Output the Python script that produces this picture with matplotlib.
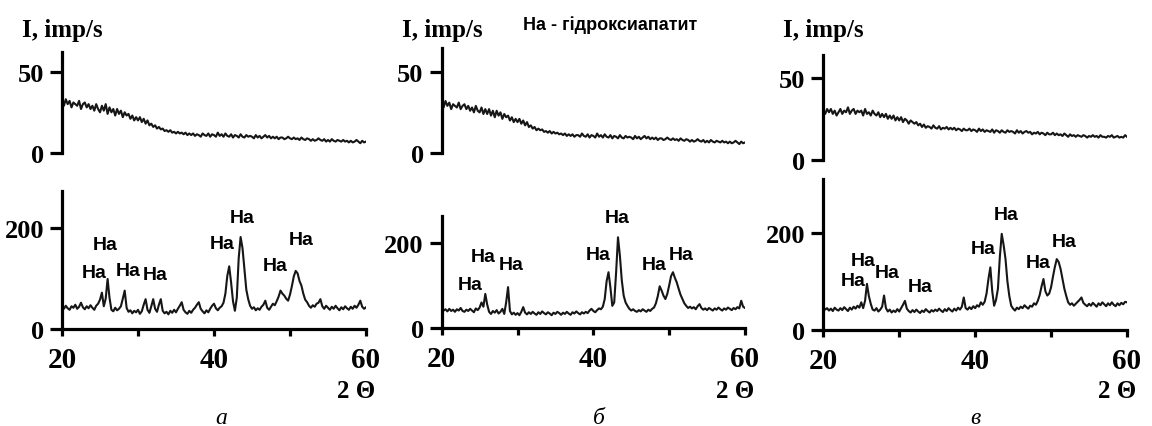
import numpy as np
import matplotlib
matplotlib.use("Agg")
import matplotlib.pyplot as plt

# --- дані (крок 0.25 град. 2Θ, від 20 до 60) ---
two_theta = np.arange(20.0, 60.001, 0.25)

# верхні (аморфні) дифрактограми
top_a = [
    31, 29, 33, 30, 32, 28, 31, 30, 29, 32, 27, 30, 31, 28, 30, 27,
    29, 26, 30, 27, 25, 29, 26, 30, 24, 28, 25, 27, 23, 27, 24, 26,
    22, 25, 23, 24, 21, 23, 20, 22, 20, 22, 19, 21, 18, 20, 17, 18,
    16, 17, 15, 16, 14.5, 15, 13.5, 14, 13, 14, 12.5, 13, 12, 13, 12, 12.5,
    11.5, 12.5, 11, 12, 11, 12, 10.5, 11.5, 11, 10, 12, 11, 10.5, 12, 10, 11.5,
    11, 10, 12.5, 10.5, 11.5, 10, 12, 10.5, 10, 11.5, 9.5, 11, 10.5, 9.5, 11.5, 10,
    9.5, 11, 10, 10.5, 10, 9, 11, 9.5, 10.5, 9, 10, 11, 9.5, 10.5, 9, 10,
    9, 10, 8.5, 9.5, 9.5, 8.5, 9, 10, 9, 8.5, 9.5, 8.5, 9, 8, 9.5, 8.5,
    8, 9, 8.5, 7.5, 8.5, 7.5, 8, 9, 8, 7.5, 8.5, 7, 8, 7, 8.5, 7.5,
    7, 8, 7.5, 7, 8, 7, 7.5, 6.5, 7.5, 6.5, 7, 8, 7, 6, 7.5, 6.5,
    7,
]
top_b = [
    31, 28, 32, 29, 31, 27, 30, 29, 28, 31, 27, 29, 30, 27, 29, 26,
    28, 25, 29, 26, 25, 28, 24, 27, 24, 27, 23, 26, 22, 26, 23, 25,
    21, 24, 22, 23, 20, 22, 19, 21, 19, 21, 18, 20, 17, 19, 16, 17,
    15, 16, 14, 15, 14, 14.5, 13, 13.5, 12.5, 13.5, 12, 13, 12, 12.5, 11.5, 12,
    11, 12, 10.5, 11.5, 10.5, 11.5, 10, 11, 11, 10, 12, 10.5, 10, 11.5, 9.5, 11,
    10.5, 9.5, 12, 10, 11, 9.5, 11.5, 10, 9.5, 11, 9, 10.5, 10, 9, 11, 9.5,
    9, 10.5, 9.5, 10, 9.5, 8.5, 10.5, 9, 10, 8.5, 9.5, 10.5, 9, 10, 8.5, 9.5,
    8.5, 9.5, 8, 9, 9, 8, 8.5, 9.5, 8.5, 8, 9, 8, 8.5, 7.5, 9, 8,
    7.5, 8.5, 8, 7, 8, 7, 7.5, 8.5, 7.5, 7, 8, 6.5, 7.5, 6.5, 8, 7,
    6.5, 7.5, 7, 6.5, 7.5, 6.5, 7, 6, 7, 6, 6.5, 7.5, 6.5, 5.5, 7, 6,
    6.5,
]
top_c = [
    30, 28, 31, 29, 31, 28, 30, 27, 29, 31, 28, 30, 29, 32, 28, 30,
    31, 28, 30, 29, 30, 27, 31, 28, 29, 27, 30, 28, 27, 29, 26, 28,
    26, 28, 25, 27, 25, 27, 24, 26, 24, 26, 23, 25, 24, 22, 24, 23,
    22, 23, 21, 22, 20, 21.5, 19.5, 20.5, 20, 19, 21, 19.5, 19, 20.5, 18.5, 19.5,
    19, 20, 18.5, 19.5, 18.5, 19.5, 18, 19, 18.5, 17.5, 19, 18, 18, 19, 17.5, 18.5,
    18, 17, 19, 17.5, 18.5, 17, 18, 17.5, 17, 18.5, 16.5, 18, 17.5, 16.5, 18, 17,
    16.5, 18, 17, 17.5, 17, 16, 18, 16.5, 17.5, 16, 17, 17.5, 16.5, 17, 15.5, 16.5,
    16, 17, 15.5, 16.5, 16, 15, 16.5, 15.5, 15.5, 16.5, 15, 16, 15, 15.5, 14.5, 16,
    15, 14, 15.5, 14.5, 15, 14, 15, 14.5, 14, 15, 14.5, 13.5, 14.5, 14, 15, 14,
    14.5, 13.5, 15, 14, 14, 13.5, 14.5, 14, 15, 13.5, 14, 14.5, 13.5, 14, 13.5, 15,
    14,
]

# нижні дифрактограми з піками гідроксиапатиту
bottom_a = [
    44, 40, 46, 41, 38, 45, 42, 48, 40, 44, 52, 43, 39, 45, 41, 47,
    42, 38, 46, 50, 58, 72, 45, 60, 99, 62, 38, 35, 42, 37, 40, 45,
    60, 76, 42, 34, 37, 31, 36, 33, 38, 30, 35, 48, 59, 38, 32, 45,
    59, 40, 34, 48, 59, 36, 31, 34, 29, 36, 32, 38, 33, 40, 46, 53,
    38, 33, 30, 36, 32, 38, 42, 48, 53, 40, 35, 31, 37, 33, 40, 46,
    50, 41, 37, 42, 45, 52, 70, 105, 124, 92, 55, 36, 62, 140, 182, 160,
    118, 78, 59, 46, 40, 43, 37, 41, 38, 44, 48, 56, 42, 38, 44, 50,
    47, 55, 64, 76, 70, 66, 60, 56, 68, 85, 104, 115, 110, 95, 86, 70,
    58, 53, 46, 42, 47, 44, 50, 52, 59, 45, 40, 46, 42, 38, 44, 40,
    46, 41, 37, 43, 39, 45, 41, 38, 44, 40, 46, 42, 48, 56, 44, 40,
    43,
]
bottom_b = [
    46, 41, 44, 39, 45, 40, 43, 38, 44, 41, 47, 40, 38, 43, 40, 45,
    41, 37, 46, 42, 48, 60, 50, 80, 55, 38, 33, 40, 36, 42, 34, 38,
    45, 33, 60, 96, 40, 32, 36, 31, 35, 30, 38, 49, 36, 32, 37, 33,
    38, 34, 31, 37, 33, 39, 35, 32, 37, 34, 30, 36, 33, 38, 35, 31,
    36, 33, 38, 34, 31, 37, 34, 39, 35, 32, 37, 34, 38, 35, 41, 45,
    40, 37, 42, 46, 44, 50, 68, 110, 131, 95, 52, 60, 130, 213, 170, 112,
    76, 60, 52, 45, 41, 44, 40, 38, 42, 39, 44, 41, 38, 43, 40, 45,
    48, 58, 75, 98, 88, 76, 68, 80, 100, 122, 131, 118, 107, 92, 78, 68,
    58, 52, 47, 50, 46, 49, 44, 51, 56, 47, 43, 46, 42, 47, 44, 41,
    46, 43, 48, 44, 41, 46, 43, 48, 45, 42, 47, 44, 49, 46, 64, 50,
    47,
]
bottom_c = [
    47, 42, 45, 40, 44, 39, 46, 42, 40, 45, 41, 47, 43, 39, 46, 42,
    48, 44, 50, 46, 57, 45, 60, 95, 70, 54, 42, 40, 45, 38, 42, 48,
    71, 45, 38, 42, 36, 40, 37, 43, 38, 45, 52, 60, 44, 39, 36, 41,
    37, 42, 38, 35, 40, 37, 43, 39, 36, 41, 38, 42, 39, 44, 40, 37,
    43, 39, 45, 41, 38, 44, 40, 46, 42, 48, 67, 45, 42, 47, 43, 49,
    45, 51, 48, 57, 52, 58, 75, 105, 129, 80, 50, 62, 85, 150, 198, 175,
    146, 100, 70, 50, 44, 40, 46, 43, 48, 45, 51, 47, 44, 50, 48, 55,
    52, 60, 72, 90, 105, 80, 71, 75, 88, 110, 130, 146, 140, 126, 105, 85,
    70, 57, 52, 55, 50, 54, 58, 62, 67, 56, 52, 49, 54, 50, 56, 52,
    48, 55, 51, 57, 53, 49, 55, 51, 57, 52, 49, 55, 51, 56, 53, 58,
    57,
]

# підписи піків "На" (2Θ, I)
peaks_a_x = [24.2, 25.7, 28.7, 32.3, 41.1, 43.7, 48.1, 51.5]
peaks_a_y = [111, 167, 115, 107, 170, 220, 125, 178]
peaks_b_x = [23.8, 25.5, 29.1, 40.7, 43.2, 48.0, 51.6]
peaks_b_y = [101, 167, 150, 173, 260, 148, 173]
peaks_c_x = [23.9, 25.3, 28.4, 32.7, 41.1, 44.1, 48.3, 51.7]
peaks_c_y = [102, 144, 118, 90, 168, 238, 139, 183]

panel_letters = ["а", "б", "в"]

W, H = 1152, 427
SERIF = "Liberation Serif"
SANS = "Liberation Sans"
LINE = "#161616"


def fx(px):
    return px / W


def fy(py):
    return (H - py) / H


def make_axes(fig, left, right, y0, ytop):
    return fig.add_axes([fx(left), fy(y0), fx(right - left), (y0 - ytop) / H])


def style_axis(ax):
    for s in ["top", "right"]:
        ax.spines[s].set_visible(False)
    ax.spines["left"].set_linewidth(2.3)
    ax.spines["bottom"].set_linewidth(2.3)
    ax.tick_params(axis="y", direction="out", length=9, width=2.3, pad=4,
                   labelsize=19)
    ax.tick_params(axis="x", which="both", direction="out", length=5,
                   width=2.3, pad=7, labelsize=21)
    for lab in ax.get_xticklabels() + ax.get_yticklabels():
        lab.set_fontfamily(SERIF)
        lab.set_fontweight("bold")


def draw_panel(fig, geom, top_y, bottom_y, px_, py_, letter, letter_pos):
    left, right, t0, tt, ttop, b0, bt, btop = geom

    # верхній графік
    ax1 = make_axes(fig, left, right, t0, tt)
    ax1.plot(two_theta, top_y, color=LINE, lw=1.5)
    ax1.set_xlim(20, 60)
    ax1.set_ylim(0, ttop)
    ax1.set_yticks([0, 50])
    ax1.set_xticks([])
    ax1.spines["bottom"].set_visible(False)
    style_axis(ax1)

    # нижній графік
    ax2 = make_axes(fig, left, right, b0, bt)
    ax2.plot(two_theta, bottom_y, color=LINE, lw=1.5)
    ax2.set_xlim(20, 60)
    ax2.set_ylim(0, btop)
    ax2.set_yticks([0, 200])
    ax2.set_xticks([20, 40, 60])
    ax2.set_xticks([30, 50], minor=True)
    style_axis(ax2)
    for x, y in zip(px_, py_):
        ax2.text(x, y, "На", ha="center", va="center", fontsize=14,
                 fontweight="bold", family=SANS, clip_on=False)

    # підписи осей
    fig.text(fx(left - 40), fy(37), "I, imp/s", family=SERIF,
             fontweight="bold", fontsize=18, va="baseline")
    fig.text(fx(right - 29), fy(398), "2 Θ", family=SERIF,
             fontweight="bold", fontsize=18, va="baseline")
    fig.text(fx(letter_pos[0]), fy(letter_pos[1]), letter, family=SERIF,
             style="italic", fontsize=17, va="baseline", ha="center")
    return ax1, ax2


fig = plt.figure(figsize=(W / 100, H / 100), dpi=100)

draw_panel(fig, (62, 366, 154, 53, 62, 330, 192, 273),
           top_a, bottom_a, peaks_a_x, peaks_a_y, panel_letters[0], (221, 424))
draw_panel(fig, (441.7, 745, 154, 49, 64.6, 329, 217, 263),
           top_b, bottom_b, peaks_b_x, peaks_b_y, panel_letters[1], (599, 424))
draw_panel(fig, (823.3, 1127, 160.7, 56, 64, 331, 180, 311),
           top_c, bottom_c, peaks_c_x, peaks_c_y, panel_letters[2], (975, 424))

fig.text(fx(523), fy(30), "На - гідроксиапатит", family=SANS,
         fontweight="bold", fontsize=13, va="baseline")

fig.savefig("out.png", dpi=100)
